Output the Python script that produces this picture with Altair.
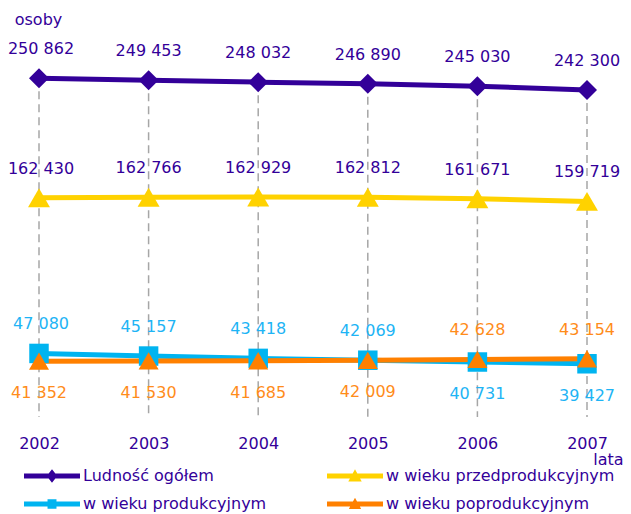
import altair as alt
import pandas as pd

# ---- data ----
years = [2002, 2003, 2004, 2005, 2006, 2007]
series_names = [
    "Ludność ogółem",
    "w wieku przedprodukcyjnym",
    "w wieku produkcyjnym",
    "w wieku poprodukcyjnym",
]
total = [250862, 249453, 248032, 246890, 245030, 242300]
pre_working = [162430, 162766, 162929, 162812, 161671, 159719]
working = [47080, 45157, 43418, 42069, 40731, 39427]
post_working = [41352, 41530, 41685, 42009, 42628, 43154]
y_title = "osoby"
x_title = "lata"

# ---- styles ----
FONT = "DejaVu Sans"
PURPLE = "#330099"
line_colors = ["#330099", "#FFD200", "#00B4F0", "#FF8000"]
label_colors = ["#330099", "#330099", "#1EB4F5", "#FF8C1A"]
marker_shapes = ["diamond", "triangle-up", "square", "triangle-up"]
marker_sizes = [400, 480, 380, 400]
legend_paths = [
    "M-1,-0.09L1,-0.09L1,0.09L-1,0.09Z M0,-0.24L0.19,0L0,0.24L-0.19,0Z",
    "M-1,-0.09L1,-0.09L1,0.09L-1,0.09Z M0,-0.24L0.24,0.2L-0.24,0.2Z",
    "M-1,-0.09L1,-0.09L1,0.09L-1,0.09Z M-0.16,-0.17L0.16,-0.17L0.16,0.17L-0.16,0.17Z",
    "M-1,-0.09L1,-0.09L1,0.09L-1,0.09Z M0,-0.22L0.22,0.18L-0.22,0.18Z",
]

values_by_series = [total, pre_working, working, post_working]
rows = []
for si, (name, vals) in enumerate(zip(series_names, values_by_series)):
    for yi, (yr, v) in enumerate(zip(years, vals)):
        if si >= 2:
            other = values_by_series[5 - si][yi]
            pos = "above" if v >= other else "below"
        else:
            pos = "above"
        rows.append(
            {
                "year": yr,
                "series": name,
                "value": v,
                "label": f"{v:,}".replace(",", " "),
                "label_color": label_colors[si],
                "pos": pos,
            }
        )
df = pd.DataFrame(rows)

x_enc = alt.X(
    "year:Q",
    scale=alt.Scale(domain=[years[0], years[-1]], nice=False, zero=False),
    axis=alt.Axis(
        values=years,
        format="d",
        domain=False,
        ticks=False,
        tickSize=0,
        grid=False,
        labelFlush=False,
        labelPadding=18,
        labelFontSize=16,
        labelFont=FONT,
        labelColor=PURPLE,
        title=x_title,
        titleX=569,
        titleY=42,
        titleAlign="center",
        titleBaseline="middle",
        titleFontSize=16,
        titleFont=FONT,
        titleFontWeight="normal",
        titleColor=PURPLE,
    ),
)
y_enc = alt.Y(
    "value:Q",
    scale=alt.Scale(domain=[0, 300000], nice=False, zero=True),
    axis=alt.Axis(
        domain=False,
        ticks=False,
        labels=False,
        grid=False,
        title=y_title,
        titleAngle=0,
        titleX=-1,
        titleY=7,
        titleAlign="center",
        titleBaseline="middle",
        titleFontSize=16,
        titleFont=FONT,
        titleFontWeight="normal",
        titleColor=PURPLE,
    ),
)

base = alt.Chart(df).encode(x=x_enc, y=y_enc)

rules = (
    base.transform_filter(alt.datum.series == series_names[0])
    .mark_rule(color="#A6A6A6", strokeWidth=1.5, strokeDash=[8, 5])
    .encode(y2=alt.datum(0))
)

lines = []
markers = []
for name, col, shp, sz in zip(series_names, line_colors, marker_shapes, marker_sizes):
    sub = base.transform_filter(alt.datum.series == name)
    lines.append(sub.mark_line(color=col, strokeWidth=5))
    markers.append(sub.mark_point(shape=shp, size=sz, filled=True, color=col, opacity=1))

legend = alt.Legend(
    title=None,
    orient="none",
    direction="horizontal",
    legendX=-15,
    legendY=453,
    columns=2,
    symbolOpacity=1,
    symbolSize=3136,
    symbolStrokeWidth=0,
    labelFontSize=16,
    labelFont=FONT,
    labelColor=PURPLE,
    labelOffset=3,
    labelLimit=400,
    clipHeight=22,
    rowPadding=6,
    columnPadding=60,
    padding=0,
)
legend_layer = base.mark_point(filled=True, opacity=0).encode(
    color=alt.Color(
        "series:N", scale=alt.Scale(domain=series_names, range=line_colors), legend=legend
    ),
    shape=alt.Shape(
        "series:N",
        scale=alt.Scale(domain=series_names, range=legend_paths),
        legend=legend,
    ),
)

text_color = alt.Color("label_color:N", scale=None)
text_above_first = (
    base.transform_filter((alt.datum.pos == "above") & (alt.datum.year == years[0]))
    .mark_text(dy=-29, dx=2, fontSize=16, font=FONT)
    .encode(text="label:N", color=text_color)
)
text_above = (
    base.transform_filter((alt.datum.pos == "above") & (alt.datum.year != years[0]))
    .mark_text(dy=-29, fontSize=16, font=FONT)
    .encode(text="label:N", color=text_color)
)
text_below = (
    base.transform_filter(alt.datum.pos == "below")
    .mark_text(dy=32, fontSize=16, font=FONT)
    .encode(text="label:N", color=text_color)
)

chart = (
    alt.layer(rules, *lines, *markers, legend_layer, text_above_first, text_above, text_below)
    .properties(
        width=548,
        height=405,
        padding={"left": 31, "top": 4, "right": 36, "bottom": 97},
        autosize=alt.AutoSizeParams(type="none"),
    )
    .configure(font=FONT)
    .configure_view(strokeWidth=0, stroke=None)
)

chart.save("out.html", embed_options={"renderer": "svg", "actions": False})
